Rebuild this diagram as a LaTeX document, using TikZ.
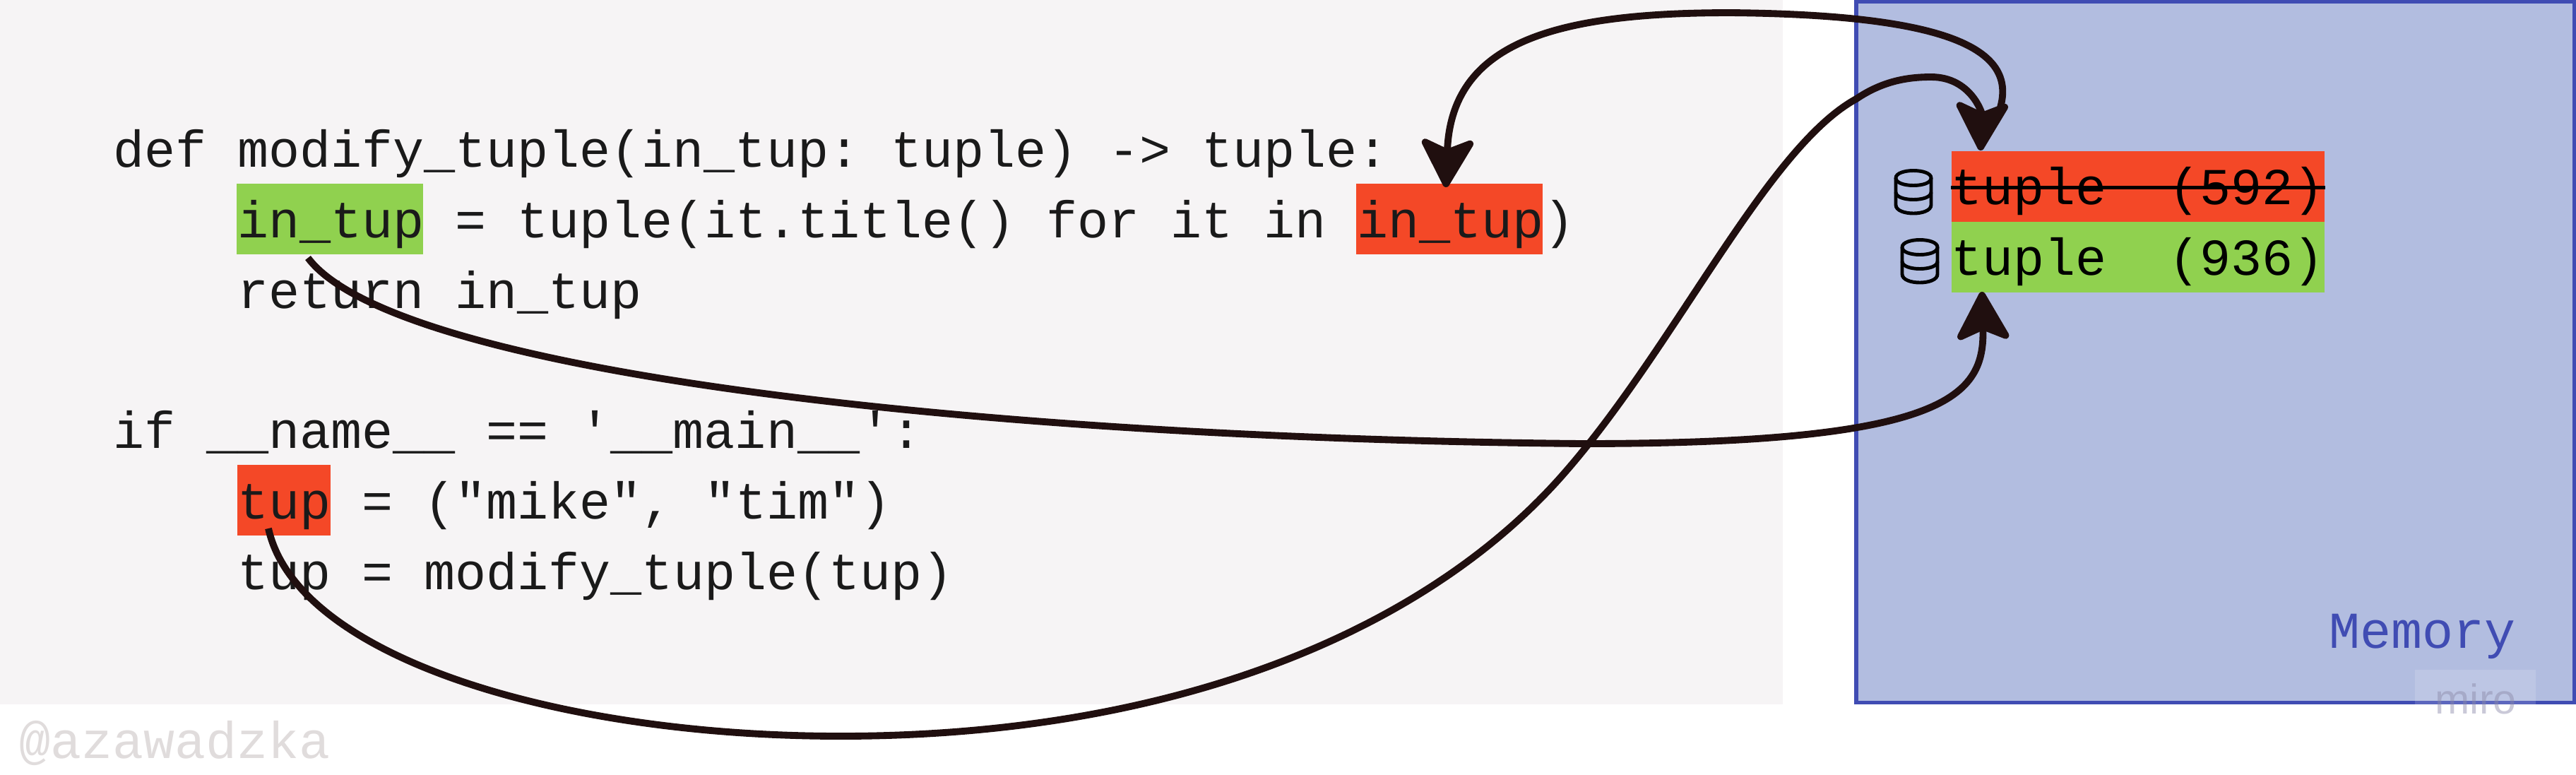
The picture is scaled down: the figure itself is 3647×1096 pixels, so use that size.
\documentclass[tikz,border=0pt]{standalone}
\usepackage{fontspec}
\setmonofont{Liberation Mono}
\setsansfont{Liberation Sans}
\usetikzlibrary{arrows.meta}
\definecolor{panelgrey}{HTML}{F6F4F5}
\definecolor{codeblack}{HTML}{1A1A1A}
\definecolor{hotred}{HTML}{F44827}
\definecolor{freshgreen}{HTML}{90D14F}
\definecolor{memfill}{HTML}{B2BDE0}
\definecolor{memblue}{HTML}{404CB3}
\definecolor{linkbrown}{HTML}{200F0F}
\definecolor{signgrey}{HTML}{E0DCDC}
\definecolor{marksgrey}{HTML}{8A88A8}
\newcommand{\codefont}{\ttfamily\fontsize{20.86pt}{24pt}\selectfont}
\newcommand{\indentcode}{\hspace*{1.76cm}}

\tikzset{
  codeline/.style={inner sep=0pt,text width=21cm,align=flush left,text height=0.6cm,text depth=0.2cm,
    text=codeblack,font=\codefont},
  hilite/.style={inner sep=0pt,minimum height=1cm,anchor=north west},
  memrow/.style={inner sep=0pt,minimum height=1cm,text width=5.28cm,align=flush left,
    text height=0.66cm,text depth=0.15cm,text=black,font=\codefont},
  link/.style={->,draw=linkbrown,line width=2.8pt},
  dbicon/.pic={
    \draw[black,line width=1.4pt] (-25,-20) .. controls (-25,-34) and (25,-34) .. (25,-20)
      .. controls (25,-6) and (-25,-6) .. cycle;
    \draw[black,line width=1.4pt] (-25,-20) -- (-25,18) .. controls (-25,34) and (25,34) .. (25,18) -- (25,-20);
    \draw[black,line width=1.4pt] (-25,0) .. controls (-25,14) and (25,14) .. (25,0);
  }
}

\begin{document}
\begin{tikzpicture}[x=0.01cm,y=-0.01cm,>={Stealth[length=22pt,width=24pt,inset=5pt,round]}]
  \useasboundingbox (0,0) rectangle (3647,1096);

  \fill[panelgrey] (0,0) rectangle (2524,997);
  \draw[fill=memfill,draw=memblue,line width=1.6pt] (2628,2.5) rectangle (3644.5,994.5);

  \node[hilite,fill=freshgreen,minimum width=2.64cm] (greenlocal) at (334,259) {};
  \node[hilite,fill=hotred,minimum width=2.64cm] (redlocal) at (1919,259) {};
  \node[hilite,fill=hotred,minimum width=1.32cm] (redglobal) at (335,657) {};

  \node[codeline,anchor=base west] (def line) at (160,236) {def modify\_tuple(in\_tup: tuple) -> tuple:};
  \node[codeline,below of=def line,node distance=1cm] (assign line) {\indentcode in\_tup = tuple(it.title() for it in in\_tup)};
  \node[codeline,below of=assign line,node distance=1cm] (return line) {\indentcode return in\_tup};
  \node[codeline,below of=return line,node distance=1.98cm] (if line) {if \_\_name\_\_ == '\_\_main\_\_':};
  \node[codeline,below of=if line,node distance=1cm] (tup line) {\indentcode tup = ("mike", "tim")};
  \node[codeline,below of=tup line,node distance=1cm] (call line) {\indentcode tup = modify\_tuple(tup)};

  \node[memrow,fill=hotred,anchor=north west] (old tuple) at (2762,213.5) {tuple\ \ (592)};
  \node[memrow,fill=freshgreen,below of=old tuple,node distance=0.995cm] (new tuple) {tuple\ \ (936)};
  \draw[black,line width=1.4pt] ([yshift=-0.015cm]old tuple.west) -- ([yshift=-0.015cm]old tuple.east);
  \pic at (2709,272) {dbicon};
  \pic at (2718,370) {dbicon};

  \node[anchor=base west,inner sep=0pt,text=memblue,font=\codefont] (memory label) at (3297,917) {Memory};
  \fill[white,opacity=0.15] (3419,948) rectangle (3590,997);
  \node[anchor=base west,inner sep=0pt,text=marksgrey,opacity=0.45,font=\sffamily\fontsize{16.8pt}{20pt}\selectfont] (miro mark) at (3447,1010) {miro};
  \node[anchor=base west,inner sep=0pt,text=signgrey,font=\codefont] (handle) at (27,1073) {@azawadzka};

  \coordinate (green from) at (436,365);
  \coordinate (new tip) at (2806,413);
  \coordinate (tup from) at (380,748);
  \coordinate (old tip) at (2804,213);
  \coordinate (old from) at (2832,152);
  \coordinate (red tip) at (2047,265);

  \draw[link] (green from) .. controls (560,530) and (1400,620) .. (2240,628)
    .. controls (2760,628) and (2810,560) .. (new tip);
  \draw[link] (tup from) .. controls (420,930) and (790,1042) .. (1190,1042)
    .. controls (1650,1042) and (2010,900) .. (2210,675)
    .. controls (2370,495) and (2500,210) .. (2628,140)
    .. controls (2665,115) and (2700,109) .. (2734,109)
    .. controls (2790,109) and (2806,160) .. (old tip);
  \draw[link] (old from) .. controls (2855,70) and (2760,21) .. (2450,18)
    .. controls (2200,18) and (2055,60) .. (red tip);
\end{tikzpicture}
\end{document}
